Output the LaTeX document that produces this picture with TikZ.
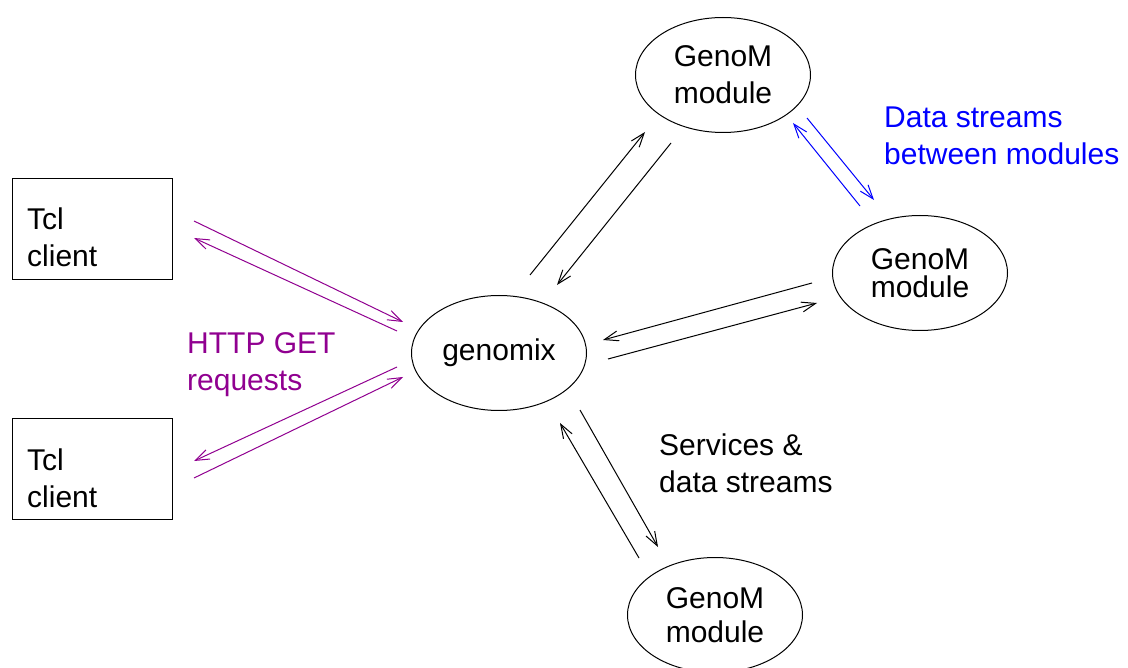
\documentclass[tikz,border=0pt]{standalone}
\usepackage{fontspec}
\setmainfont{Liberation Sans}
\usetikzlibrary{arrows.meta,shapes.geometric}
\definecolor{xpurple}{RGB}{144,0,144}
\definecolor{xblue}{RGB}{0,0,255}
\tikzset{
  every node/.style={font=\fontsize{30}{37}\selectfont},
  clientbox/.style={draw, line width=1pt, rectangle, minimum width=160pt, minimum height=101pt, inner sep=0pt},
  module/.style={draw, line width=1pt, ellipse, minimum width=175pt, minimum height=115pt,
    align=center, inner sep=0pt},
  lbl/.style={anchor=base west, align=left, inner sep=0pt},
  flow/.style={line width=1pt, -{Straight Barb[length=14pt,width=10pt,line width=1pt]}},
}
\begin{document}
\begin{tikzpicture}[x=1pt,y=-1pt]
\useasboundingbox (0,0) rectangle (1128,668);
% nodes
\node[clientbox] (tcl1) at (92,229) {};
\node[lbl] (tcl1t) at (27,267) {Tcl\\client};
\node[clientbox] (tcl2) at (92,469) {};
\node[lbl] (tcl2t) at (27,507) {Tcl\\client};
\node[module] (gx) at (499,353) {genomix};
\node[module] (mtop) at (723,75) {GenoM\\module};
\node[module, font=\fontsize{30}{28}\selectfont] (mright) at (920,273) {GenoM\\module};
\node[module, font=\fontsize{30}{34}\selectfont] (mbot) at (715,615) {GenoM\\module};
% labels
\node[lbl, text=xpurple] (lhttp) at (187,391) {HTTP GET\\requests};
\node[lbl, text=xblue] (ldata) at (884,165) {Data streams\\between modules};
\node[lbl] (lserv) at (659,492) {Services \&\\data streams};
% connector end points
\coordinate (a1) at (194,221); \coordinate (a2) at (403,322);
\coordinate (b1) at (397,331); \coordinate (b2) at (194,238);
\coordinate (c1) at (397,367); \coordinate (c2) at (194,461);
\coordinate (d1) at (194,478); \coordinate (d2) at (403,377);
\coordinate (e1) at (530,275); \coordinate (e2) at (645,132);
\coordinate (f1) at (671,143); \coordinate (f2) at (557,285);
\coordinate (g1) at (860,206); \coordinate (g2) at (793,123);
\coordinate (h1) at (807,118); \coordinate (h2) at (874,200);
\coordinate (i1) at (812,283); \coordinate (i2) at (603,340);
\coordinate (j1) at (608,359); \coordinate (j2) at (817,303);
\coordinate (k1) at (639,558); \coordinate (k2) at (560,423);
\coordinate (l1) at (580,410); \coordinate (l2) at (658,547);
% connectors
\draw[flow, xpurple] (a1) -- (a2);
\draw[flow, xpurple] (b1) -- (b2);
\draw[flow, xpurple] (c1) -- (c2);
\draw[flow, xpurple] (d1) -- (d2);
\draw[flow] (e1) -- (e2);
\draw[flow] (f1) -- (f2);
\draw[flow, xblue] (g1) -- (g2);
\draw[flow, xblue] (h1) -- (h2);
\draw[flow] (i1) -- (i2);
\draw[flow] (j1) -- (j2);
\draw[flow] (k1) -- (k2);
\draw[flow] (l1) -- (l2);
\end{tikzpicture}
\end{document}
